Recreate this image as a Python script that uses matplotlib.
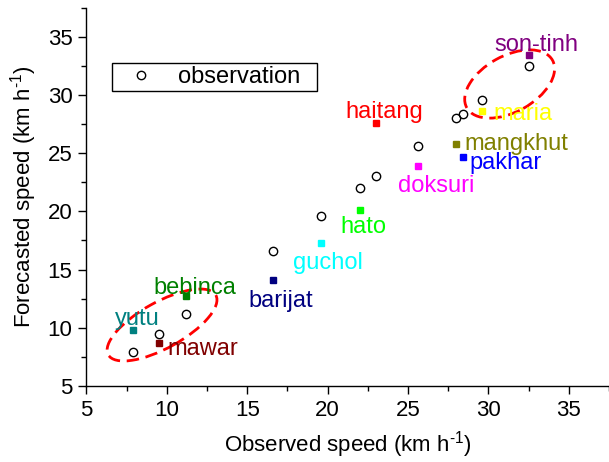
#!/usr/bin/env python3

"""
Observed vs forecasted typhoon translation speed, one marker per storm.
"""

import matplotlib
matplotlib.use("Agg")
import matplotlib.pyplot as plt
from matplotlib.patches import Ellipse, Rectangle
from matplotlib.transforms import ScaledTranslation

# Storm names and speeds (km/h)
storms = ['yutu', 'mawar', 'bebinca', 'barijat', 'guchol', 'hato',
          'haitang', 'doksuri', 'mangkhut', 'pakhar', 'maria', 'son-tinh']
observed = [7.9, 9.5, 11.2, 16.6, 19.6, 22.0, 23.0, 25.6, 28.0, 28.4, 29.6, 32.5]
forecasted = [9.8, 8.7, 12.7, 14.1, 17.3, 20.1, 27.6, 23.9, 25.8, 24.7, 28.6, 33.4]

storm_colors = ['#008080', '#800000', '#008000', '#000080', '#00FFFF', '#00FF00',
                '#FF0000', '#FF00FF', '#808000', '#0000FF', '#FFFF00', '#800080']

ticks = [5, 10, 15, 20, 25, 30, 35]

# label placement: pixel offset from the marker (right, down) and alignment
LABEL_OFFSETS = {
    'yutu': (4, -5, 'center'),
    'mawar': (8.7, 12, 'left'),
    'bebinca': (8.6, -2, 'center'),
    'barijat': (7.7, 26.7, 'center'),
    'guchol': (6.3, 26, 'center'),
    'hato': (4, 22.7, 'center'),
    'haitang': (8, -5, 'center'),
    'doksuri': (19, 26, 'center'),
    'mangkhut': (8.3, 6, 'left'),
    'pakhar': (6.6, 12.3, 'left'),
    'maria': (11, 8.6, 'left'),
    'son-tinh': (7.5, -4.3, 'center'),
}

# dashed groups: centre (data), width/height (px), angle (deg)
GROUPS = [
    ((9.7, 10.24), 123, 46, 29),
    ((31.32, 30.94), 98, 56, 29),
]


def setup_style():
    plt.rcParams['font.family'] = ['Liberation Sans', 'DejaVu Sans']
    plt.rcParams['mathtext.fontset'] = 'custom'
    plt.rcParams['mathtext.rm'] = 'Liberation Sans'
    plt.rcParams['mathtext.it'] = 'Liberation Sans:italic'


def plot_speeds():
    fig = plt.figure(figsize=(6.09, 4.62), dpi=100)
    ax = fig.add_axes([0.142, 0.1645, 0.858, 0.819])

    ax.plot(observed, observed, 'o', ls='none', mfc='none', mec='black',
            mew=1.0, ms=6, label='observation', zorder=3)

    for name, x, y, c in zip(storms, observed, forecasted, storm_colors):
        ax.plot(x, y, 's', color=c, ms=5, zorder=4)
        dx, dy, ha = LABEL_OFFSETS[name]
        ax.annotate(name, (x, y), xytext=(dx * 0.72, -dy * 0.72),
                    textcoords='offset points', ha=ha, va='baseline',
                    color=c, fontsize=17, zorder=5)

    for (cx, cy), w, h, ang in GROUPS:
        tr = fig.dpi_scale_trans + ScaledTranslation(cx, cy, ax.transData)
        ax.add_patch(Ellipse((0, 0), w / 100, h / 100, angle=ang,
                             transform=tr, fill=False, ec='red', lw=2,
                             ls=(0, (4.5, 2.4)), zorder=2))

    ax.set_xlim(5, 37.5)
    ax.set_ylim(5, 37.5)
    ax.set_xticks(ticks)
    ax.set_yticks(ticks)
    ax.set_xticks([t + 2.5 for t in ticks], minor=True)
    ax.set_yticks([t + 2.5 for t in ticks], minor=True)
    ax.tick_params(which='major', direction='out', length=6, width=1,
                   labelsize=16, pad=4)
    ax.tick_params(which='minor', direction='out', length=3.5, width=1)
    for side in ['top', 'right']:
        ax.spines[side].set_visible(False)
    for side in ['left', 'bottom']:
        ax.spines[side].set_linewidth(1)

    unit = r'(km h$^{\text{-}1}$)'
    ax.set_xlabel('Observed speed ' + unit, fontsize=16, labelpad=6)
    ax.set_ylabel('Forecasted speed ' + unit, fontsize=16, labelpad=6)

    # legend box drawn by hand so it can be wider than the text
    ax.add_patch(Rectangle((0.048, 0.7796), 0.3926, 0.0744, transform=ax.transAxes,
                           fill=False, ec='black', lw=1, zorder=6))
    ax.legend(loc='center left', bbox_to_anchor=(0.048, 0.817),
              borderaxespad=0, fontsize=17, frameon=False, borderpad=0.1,
              handlelength=2.3, handletextpad=0.4, numpoints=1)

    fig.savefig('out.png', dpi=100)


def main():
    setup_style()
    plot_speeds()


if __name__ == "__main__":
    main()
